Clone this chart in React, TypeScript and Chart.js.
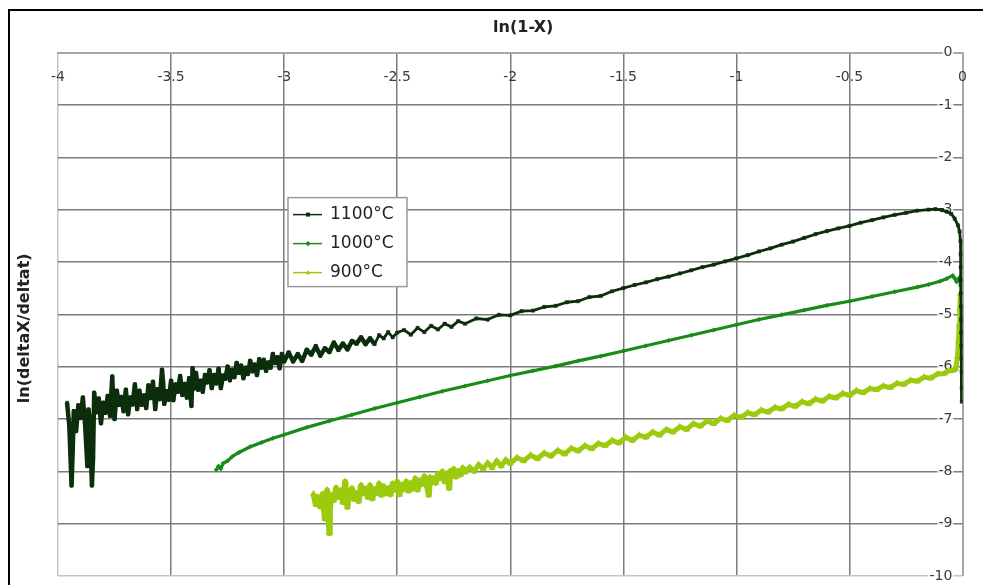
import React, { useEffect, useRef } from 'react';
import { Chart, registerables } from 'chart.js';

Chart.register(...registerables);

const seriesLabels = ['1100°C', '1000°C', '900°C'];
const seriesColors = ['#0c2e0c', '#178c17', '#9ccb0e'];
const seriesMarkers = ['rect', 'rectRot', 'triangle'];
const xTitle = 'ln(1-X)';
const yTitle = 'ln(deltaX/deltat)';

// [ln(1-X), ln(deltaX/deltat)]
const s1100: [number, number][] = [
  [-3.96, -6.69], [-3.95, -7.13], [-3.94, -8.27], [-3.935, -7.6], [-3.93, -6.85], [-3.92, -7.23],
  [-3.91, -6.74], [-3.9, -6.98], [-3.89, -6.59], [-3.88, -7.12], [-3.87, -7.9], [-3.865, -6.82],
  [-3.86, -7.0], [-3.855, -7.6], [-3.85, -8.27], [-3.845, -7.75], [-3.84, -6.5], [-3.83, -6.87],
  [-3.82, -6.61], [-3.81, -7.08], [-3.8, -6.69], [-3.79, -6.88], [-3.78, -6.56], [-3.77, -6.94],
  [-3.76, -6.19], [-3.755, -6.73], [-3.75, -7.0], [-3.74, -6.46], [-3.73, -6.73], [-3.72, -6.58],
  [-3.71, -6.85], [-3.7, -6.44], [-3.69, -6.91], [-3.68, -6.59], [-3.67, -6.72], [-3.66, -6.34],
  [-3.65, -6.81], [-3.64, -6.46], [-3.63, -6.73], [-3.62, -6.55], [-3.61, -6.79], [-3.6, -6.36],
  [-3.59, -6.6], [-3.58, -6.29], [-3.57, -6.81], [-3.56, -6.43], [-3.55, -6.62], [-3.54, -6.06],
  [-3.535, -6.32], [-3.53, -6.71], [-3.52, -6.47], [-3.51, -6.63], [-3.5, -6.27], [-3.49, -6.64],
  [-3.48, -6.34], [-3.47, -6.48], [-3.46, -6.18], [-3.45, -6.54], [-3.44, -6.33], [-3.43, -6.59],
  [-3.42, -6.22], [-3.41, -6.75], [-3.405, -6.03], [-3.4, -6.42], [-3.39, -6.12], [-3.38, -6.44],
  [-3.37, -6.27], [-3.36, -6.48], [-3.35, -6.16], [-3.34, -6.3], [-3.33, -6.07], [-3.32, -6.41],
  [-3.31, -6.16], [-3.3, -6.32], [-3.29, -6.04], [-3.28, -6.41], [-3.27, -6.17], [-3.26, -6.23],
  [-3.25, -6.0], [-3.24, -6.26], [-3.23, -6.06], [-3.22, -6.2], [-3.21, -5.93], [-3.2, -6.12],
  [-3.19, -5.98], [-3.18, -6.22], [-3.17, -6.02], [-3.16, -6.14], [-3.15, -5.89], [-3.14, -6.09],
  [-3.13, -5.96], [-3.12, -6.16], [-3.11, -5.86], [-3.1, -6.02], [-3.09, -5.87], [-3.08, -6.08],
  [-3.07, -5.92], [-3.06, -6.02], [-3.05, -5.76], [-3.04, -5.93], [-3.03, -5.82], [-3.02, -6.03],
  [-3.01, -5.76], [-3.0, -5.9], [-2.98, -5.73], [-2.96, -5.9], [-2.94, -5.76], [-2.92, -5.89],
  [-2.9, -5.68], [-2.88, -5.77], [-2.86, -5.61], [-2.84, -5.79], [-2.82, -5.65], [-2.8, -5.72],
  [-2.78, -5.54], [-2.76, -5.68], [-2.74, -5.56], [-2.72, -5.67], [-2.7, -5.51], [-2.68, -5.56],
  [-2.66, -5.44], [-2.64, -5.57], [-2.62, -5.46], [-2.6, -5.57], [-2.58, -5.4], [-2.56, -5.46],
  [-2.54, -5.34], [-2.52, -5.44], [-2.5, -5.35], [-2.47, -5.3], [-2.44, -5.39], [-2.41, -5.26],
  [-2.38, -5.34], [-2.35, -5.22], [-2.32, -5.29], [-2.29, -5.18], [-2.26, -5.24], [-2.23, -5.13],
  [-2.2, -5.18], [-2.15, -5.08], [-2.1, -5.1], [-2.05, -5.01], [-2.0, -5.02], [-1.95, -4.94],
  [-1.9, -4.93], [-1.85, -4.86], [-1.8, -4.84], [-1.75, -4.77], [-1.7, -4.75], [-1.65, -4.67],
  [-1.6, -4.65], [-1.55, -4.56], [-1.5, -4.5], [-1.45, -4.44], [-1.4, -4.39], [-1.35, -4.33],
  [-1.3, -4.28], [-1.25, -4.22], [-1.2, -4.16], [-1.15, -4.1], [-1.1, -4.05], [-1.05, -3.99],
  [-1.0, -3.93], [-0.95, -3.87], [-0.9, -3.8], [-0.85, -3.74], [-0.8, -3.67], [-0.75, -3.61],
  [-0.7, -3.54], [-0.65, -3.47], [-0.6, -3.41], [-0.55, -3.36], [-0.5, -3.31], [-0.45, -3.25],
  [-0.4, -3.2], [-0.35, -3.15], [-0.3, -3.1], [-0.25, -3.06], [-0.2, -3.02], [-0.15, -3.0],
  [-0.12, -2.99], [-0.09, -3.01], [-0.07, -3.04], [-0.05, -3.08], [-0.035, -3.17], [-0.02, -3.3],
  [-0.013, -3.42], [-0.009, -3.6], [-0.0085, -3.85], [-0.008, -4.1], [-0.0075, -4.35], [-0.007, -4.6],
  [-0.0065, -4.85], [-0.006, -5.1], [-0.0055, -5.35], [-0.005, -5.6], [-0.0045, -5.85], [-0.004, -6.1],
  [-0.0035, -6.4], [-0.003, -6.67],
];

const s1000: [number, number][] = [
  [-3.3, -7.97], [-3.29, -7.9], [-3.28, -7.95], [-3.27, -7.85], [-3.25, -7.8], [-3.23, -7.72],
  [-3.2, -7.64], [-3.15, -7.53], [-3.1, -7.45], [-3.05, -7.37], [-3.0, -7.3], [-2.9, -7.16],
  [-2.8, -7.04], [-2.7, -6.92], [-2.6, -6.8], [-2.5, -6.69], [-2.4, -6.58], [-2.3, -6.47],
  [-2.2, -6.37], [-2.1, -6.27], [-2.0, -6.17], [-1.9, -6.08], [-1.8, -5.99], [-1.7, -5.89],
  [-1.6, -5.8], [-1.5, -5.7], [-1.4, -5.6], [-1.3, -5.5], [-1.2, -5.4], [-1.1, -5.3],
  [-1.0, -5.2], [-0.9, -5.1], [-0.8, -5.01], [-0.7, -4.92], [-0.6, -4.83], [-0.5, -4.75],
  [-0.4, -4.66], [-0.3, -4.57], [-0.2, -4.48], [-0.15, -4.43], [-0.1, -4.37], [-0.07, -4.32],
  [-0.044, -4.26], [-0.035, -4.31], [-0.026, -4.38], [-0.018, -4.33], [-0.012, -4.29], [-0.009, -4.45],
];

const s900: [number, number][] = [
  [-2.87, -8.43], [-2.86, -8.63], [-2.85, -8.5], [-2.84, -8.67], [-2.83, -8.44], [-2.82, -8.9],
  [-2.818, -8.6], [-2.81, -8.36], [-2.8, -9.18], [-2.798, -8.7], [-2.79, -8.46], [-2.78, -8.55],
  [-2.77, -8.32], [-2.76, -8.49], [-2.75, -8.37], [-2.74, -8.59], [-2.73, -8.2], [-2.72, -8.68],
  [-2.715, -8.4], [-2.71, -8.5], [-2.7, -8.33], [-2.69, -8.53], [-2.68, -8.42], [-2.67, -8.57],
  [-2.66, -8.27], [-2.65, -8.42], [-2.64, -8.34], [-2.63, -8.49], [-2.62, -8.27], [-2.61, -8.52],
  [-2.6, -8.35], [-2.59, -8.41], [-2.58, -8.24], [-2.57, -8.45], [-2.56, -8.29], [-2.55, -8.42],
  [-2.54, -8.33], [-2.53, -8.44], [-2.52, -8.24], [-2.51, -8.35], [-2.5, -8.2], [-2.49, -8.44],
  [-2.48, -8.26], [-2.47, -8.34], [-2.46, -8.2], [-2.45, -8.37], [-2.44, -8.23], [-2.43, -8.33],
  [-2.42, -8.14], [-2.41, -8.35], [-2.4, -8.18], [-2.39, -8.24], [-2.38, -8.1], [-2.37, -8.25],
  [-2.36, -8.45], [-2.355, -8.12], [-2.35, -8.21], [-2.34, -8.14], [-2.33, -8.22], [-2.32, -8.05],
  [-2.31, -8.13], [-2.3, -8.01], [-2.29, -8.19], [-2.28, -8.05], [-2.27, -8.32], [-2.265, -8.0],
  [-2.26, -8.09], [-2.25, -7.96], [-2.24, -8.1], [-2.23, -8.0], [-2.22, -8.06], [-2.21, -7.94],
  [-2.2, -8.02], [-2.18, -7.92], [-2.16, -8.0], [-2.14, -7.87], [-2.12, -7.95], [-2.1, -7.84],
  [-2.08, -7.93], [-2.06, -7.8], [-2.04, -7.9], [-2.02, -7.78], [-2.0, -7.85], [-1.97, -7.74],
  [-1.94, -7.8], [-1.91, -7.69], [-1.88, -7.76], [-1.85, -7.65], [-1.82, -7.71], [-1.79, -7.6],
  [-1.76, -7.67], [-1.73, -7.56], [-1.7, -7.61], [-1.67, -7.51], [-1.64, -7.57], [-1.61, -7.47],
  [-1.58, -7.51], [-1.55, -7.41], [-1.52, -7.46], [-1.49, -7.35], [-1.46, -7.41], [-1.43, -7.31],
  [-1.4, -7.35], [-1.37, -7.25], [-1.34, -7.31], [-1.31, -7.2], [-1.28, -7.25], [-1.25, -7.15],
  [-1.22, -7.2], [-1.19, -7.09], [-1.16, -7.14], [-1.13, -7.04], [-1.1, -7.09], [-1.07, -6.99],
  [-1.04, -7.03], [-1.01, -6.93], [-0.98, -6.97], [-0.95, -6.88], [-0.92, -6.92], [-0.89, -6.83],
  [-0.86, -6.87], [-0.83, -6.78], [-0.8, -6.81], [-0.77, -6.72], [-0.74, -6.76], [-0.71, -6.67],
  [-0.68, -6.71], [-0.65, -6.62], [-0.62, -6.66], [-0.59, -6.57], [-0.56, -6.6], [-0.53, -6.51],
  [-0.5, -6.55], [-0.47, -6.46], [-0.44, -6.5], [-0.41, -6.42], [-0.38, -6.44], [-0.35, -6.37],
  [-0.32, -6.4], [-0.29, -6.32], [-0.26, -6.34], [-0.23, -6.26], [-0.2, -6.28], [-0.17, -6.2],
  [-0.14, -6.22], [-0.11, -6.14], [-0.08, -6.13], [-0.06, -6.08], [-0.04, -6.07], [-0.03, -6.04],
  [-0.022, -5.8], [-0.018, -5.5], [-0.015, -5.2], [-0.012, -4.9], [-0.009, -4.6],
];

const xRange = [-4, 0];
const yRange = [-10, 0];
const xStep = 0.5;
const yStep = 1;

const FONT = '"DejaVu Sans", "Liberation Sans", sans-serif';

function drawMarker(ctx: CanvasRenderingContext2D, style: string, x: number, y: number, r: number, color: string) {
  ctx.save();
  ctx.fillStyle = color;
  ctx.beginPath();
  if (style === 'rect') {
    ctx.rect(x - r, y - r, 2 * r, 2 * r);
  } else if (style === 'rectRot') {
    ctx.moveTo(x, y - r * 1.3);
    ctx.lineTo(x + r * 1.3, y);
    ctx.lineTo(x, y + r * 1.3);
    ctx.lineTo(x - r * 1.3, y);
    ctx.closePath();
  } else {
    ctx.moveTo(x, y - r * 1.3);
    ctx.lineTo(x + r * 1.2, y + r * 0.8);
    ctx.lineTo(x - r * 1.2, y + r * 0.8);
    ctx.closePath();
  }
  ctx.fill();
  ctx.restore();
}

const framePlugin = {
  id: 'frame',
  afterLayout(chart: any) {
    // nudge the two axis titles to where the original places them
    const t = chart.scales.yTitle;
    if (t) t.top += 28;
    if (chart.titleBlock) chart.titleBlock.left += 26;
  },
  beforeDraw(chart: any) {
    const { ctx } = chart;
    ctx.save();
    ctx.fillStyle = '#ffffff';
    ctx.fillRect(0, 0, chart.width, chart.height);
    ctx.restore();
  },
  afterDraw(chart: any) {
    const { ctx } = chart;
    ctx.save();
    ctx.strokeStyle = '#000000';
    ctx.lineWidth = 2;
    ctx.strokeRect(9, 10, chart.width + 40, chart.height + 40);
    ctx.restore();
  },
};

const boxLegendPlugin = {
  id: 'boxLegend',
  afterDatasetsDraw(chart: any) {
    const { ctx, chartArea } = chart;
    const left = chartArea.left + 230;
    const top = chartArea.top + 145;
    const w = 119;
    const h = 89;
    ctx.save();
    ctx.fillStyle = '#ffffff';
    ctx.fillRect(left, top, w, h);
    ctx.strokeStyle = '#9a9a9a';
    ctx.lineWidth = 1.5;
    ctx.strokeRect(left, top, w, h);
    chart.data.datasets.forEach((ds: any, i: number) => {
      const y = top + 17 + i * 29;
      ctx.strokeStyle = ds.borderColor;
      ctx.lineWidth = 1.5;
      ctx.beginPath();
      ctx.moveTo(left + 5, y);
      ctx.lineTo(left + 34, y);
      ctx.stroke();
      drawMarker(ctx, ds.pointStyle, left + 20, y, 2, ds.borderColor);
      ctx.fillStyle = '#222222';
      ctx.font = `17px ${FONT}`;
      ctx.textBaseline = 'middle';
      ctx.textAlign = 'left';
      ctx.fillText(ds.label, left + 42, y);
    });
    ctx.restore();
  },
};

export default function App() {
  const canvasRef = useRef<HTMLCanvasElement | null>(null);

  useEffect(() => {
    if (!canvasRef.current) return;
    const series = [s1100, s1000, s900];
    const widths = [2.8, 3.2, 5];
    const radii = [2.3, 2.2, 3.6];
    // the noisy starts of the 1100 and 900 curves are drawn as dense clouds
    const noisyUntil = [-2.6, -99, -2.2];
    const noisyWidth = [4.5, 0, 6];
    const chart = new Chart(canvasRef.current, {
      type: 'line',
      data: {
        datasets: series.map((s, i) => ({
          label: seriesLabels[i],
          data: s.map(([x, y]) => ({ x, y })),
          borderColor: seriesColors[i],
          backgroundColor: seriesColors[i],
          pointBackgroundColor: seriesColors[i],
          pointBorderColor: seriesColors[i],
          pointStyle: seriesMarkers[i] as any,
          pointRadius: radii[i],
          pointBorderWidth: 0.5,
          borderWidth: widths[i],
          borderJoinStyle: 'round',
          segment: {
            borderWidth: (c: any) => (c.p0.parsed.x < noisyUntil[i] ? noisyWidth[i] : undefined),
          },
          tension: 0,
          fill: false,
        })),
      },
      options: {
        animation: false,
        responsive: false,
        events: [],
        layout: { padding: { left: 11, right: 18, top: 18, bottom: 9 } },
        plugins: {
          legend: { display: false },
          tooltip: { enabled: false },
          title: {
            display: true,
            text: xTitle,
            fullSize: false,
            color: '#222222',
            font: { family: FONT, size: 16, weight: 'bold' },
            padding: { top: 0, bottom: 15.4 },
          },
        },
        scales: {
          x: {
            type: 'linear',
            position: { y: 0 } as any,
            min: xRange[0],
            max: xRange[1],
            ticks: {
              stepSize: xStep,
              padding: 16,
              color: '#3a3a3a',
              font: { family: FONT, size: 14 },
              callback: (v: any) => String(Number(v)),
            },
            grid: {
              drawTicks: false,
              lineWidth: (c: any) => (c.tick && c.tick.value === xRange[1] ? 2 : 1.5),
              color: (c: any) => {
                if (!c.tick) return '#7c7c7c';
                if (c.tick.value === xRange[0]) return '#c4c4c4';
                if (c.tick.value === xRange[1]) return '#a6a6a6';
                return '#7c7c7c';
              },
            },
            border: { color: '#a6a6a6', width: 2 },
          },
          y: {
            type: 'linear',
            position: { x: -0.045 } as any,
            min: yRange[0],
            max: yRange[1],
            ticks: {
              stepSize: yStep,
              padding: 0,
              color: '#3a3a3a',
              font: { family: FONT, size: 14 },
              showLabelBackdrop: true,
              backdropColor: 'rgba(255,255,255,0.85)',
              backdropPadding: { left: 1, right: 1, top: 0, bottom: 0 },
            },
            grid: {
              drawTicks: false,
              lineWidth: 1.5,
              color: (c: any) => (c.tick && (c.tick.value === yRange[0] || c.tick.value === yRange[1]) ? '#c4c4c4' : '#7c7c7c'),
            },
            border: { display: false },
          },
          yTitle: {
            type: 'linear',
            position: 'left',
            grid: { display: false, drawTicks: false },
            border: { display: false },
            ticks: { display: false },
            title: {
              display: true,
              text: yTitle,
              color: '#222222',
              font: { family: FONT, size: 16, weight: 'bold' },
              padding: { top: 4, bottom: 4 },
            },
            afterFit: (s: any) => {
              s.width = 47;
            },
          },
        },
      },
      plugins: [framePlugin, boxLegendPlugin],
    } as any);
    return () => chart.destroy();
  }, []);

  return (
    <div style={{ position: 'fixed', left: 0, top: 0, width: 983, height: 585, background: '#fff' }}>
      <canvas ref={canvasRef} width={983} height={585} style={{ display: 'block' }} />
    </div>
  );
}
